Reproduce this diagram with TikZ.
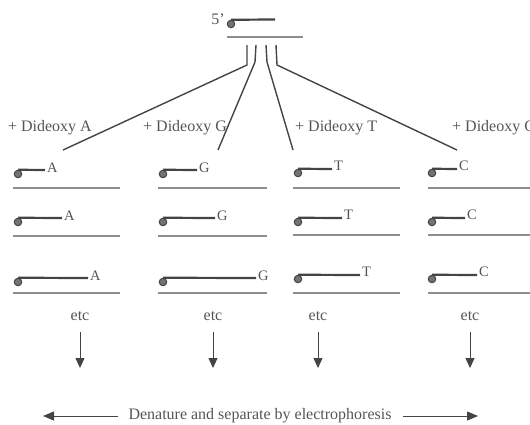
\documentclass[tikz,border=0pt]{standalone}
\usepackage{fontspec}
\setmainfont{Liberation Serif}
\usetikzlibrary{arrows.meta}
\definecolor{ink}{HTML}{444444}
\definecolor{tmpl}{HTML}{8E8E8E}
\definecolor{txt}{HTML}{555555}
\begin{document}
\begin{tikzpicture}[x=1pt,y=-1pt,
  lbl/.style={font=\fontsize{16}{18}\selectfont, text=txt, inner sep=0pt},
  base/.style={font=\fontsize{14.5}{16}\selectfont, text=txt, inner sep=0pt, anchor=base west},
  primerdot/.style={circle, draw=ink, fill=ink!75, line width=1pt, minimum size=7.5pt, inner sep=0pt},
  primer/.style={draw=ink, line width=2.2pt},
  templ/.style={draw=tmpl, line width=1.1pt},
  conn/.style={draw=ink, line width=1.4pt},
  downarrow/.style={draw=ink, line width=0.8pt, -{Triangle[width=9pt,length=10pt]}},
  sidearrow/.style={draw=ink, line width=0.8pt, -{Triangle[width=9pt,length=11pt]}},
]
\useasboundingbox (0,0) rectangle (530,424);

% top primer and template
\node[lbl, anchor=base east] (five) at (225,24) {5’};
\node[primerdot] (p0) at (231,24) {};
\coordinate (p0e) at (275,19.5);
\draw[primer] (p0.north) -- (p0e);
\coordinate (t0a) at (227,37);
\coordinate (t0b) at (303,37);
\draw[templ] (t0a) -- (t0b);

% branching connectors
\coordinate (b1) at (247,45); \coordinate (k1) at (247,65); \coordinate (c1) at (63,150);
\coordinate (b2) at (256,45); \coordinate (k2) at (255,62); \coordinate (c2) at (218,150);
\coordinate (b3) at (266,45); \coordinate (k3) at (267,62); \coordinate (c3) at (293,150);
\coordinate (b4) at (276,45); \coordinate (k4) at (277,65); \coordinate (c4) at (457,150);
\draw[conn] (b1) -- (k1) -- (c1);
\draw[conn] (b2) -- (k2) -- (c2);
\draw[conn] (b3) -- (k3) -- (c3);
\draw[conn] (b4) -- (k4) -- (c4);

% column labels
\node[lbl, anchor=base east] (dA) at (92,131) {+ Dideoxy A};
\node[lbl, anchor=base west] (dG) at (143,131) {+ Dideoxy G};
\node[lbl, anchor=base west] (dT) at (295,131) {+ Dideoxy T};
\node[lbl, anchor=base west] (dC) at (452,131) {+ Dideoxy C};

% strands: column A
\foreach \i/\y/\ty/\e in {1/174/188/45, 2/222/236/62, 3/282/293/88}{
  \node[primerdot] (a\i) at (18,\y) {};
  \coordinate (ae\i) at (\e,\y-4);
  \draw[primer] (a\i.north) -- (ae\i);
  \node[base] (al\i) at ([xshift=2pt,yshift=-2pt]ae\i) {A};
  \coordinate (ata\i) at (13,\ty); \coordinate (atb\i) at (120,\ty);
  \draw[templ] (ata\i) -- (atb\i);
}
% column G
\foreach \i/\y/\ty/\e in {1/174/188/197, 2/222/236/215, 3/282/293/256}{
  \node[primerdot] (g\i) at (163,\y) {};
  \coordinate (ge\i) at (\e,\y-4);
  \draw[primer] (g\i.north) -- (ge\i);
  \node[base] (gl\i) at ([xshift=2pt,yshift=-2pt]ge\i) {G};
  \coordinate (gta\i) at (158,\ty); \coordinate (gtb\i) at (267,\ty);
  \draw[templ] (gta\i) -- (gtb\i);
}
% column T
\foreach \i/\y/\ty/\e in {1/173/188/332, 2/222/235/342, 3/279/293/360}{
  \node[primerdot] (tt\i) at (298,\y) {};
  \coordinate (te\i) at (\e,\y-4);
  \draw[primer] (tt\i.north) -- (te\i);
  \node[base] (tl\i) at ([xshift=2pt,yshift=-1pt]te\i) {T};
  \coordinate (tta\i) at (293,\ty); \coordinate (ttb\i) at (400,\ty);
  \draw[templ] (tta\i) -- (ttb\i);
}
% column C
\foreach \i/\y/\ty/\e in {1/173/188/457, 2/222/235/465, 3/279/293/477}{
  \node[primerdot] (cc\i) at (432,\y) {};
  \coordinate (ce\i) at (\e,\y-4);
  \draw[primer] (cc\i.north) -- (ce\i);
  \node[base] (cl\i) at ([xshift=2pt,yshift=-1pt]ce\i) {C};
  \coordinate (cta\i) at (428,\ty); \coordinate (ctb\i) at (540,\ty);
  \draw[templ] (cta\i) -- (ctb\i);
}

% etc and down arrows
\foreach \i/\x in {1/80, 2/213, 3/318, 4/470}{
  \node[lbl, anchor=base] (etc\i) at (\x,320) {etc};
  \coordinate (s\i) at (\x,332);
  \coordinate (d\i) at (\x,368);
  \draw[downarrow] (s\i) -- (d\i);
}

% bottom
\node[lbl] (den) at (260,416) {Denature and separate by electrophoresis};
\coordinate (la) at (118,416); \coordinate (lb) at (43,416);
\coordinate (ra) at (403,416); \coordinate (rb) at (478,416);
\draw[sidearrow] (la) -- (lb);
\draw[sidearrow] (ra) -- (rb);
\end{tikzpicture}
\end{document}
